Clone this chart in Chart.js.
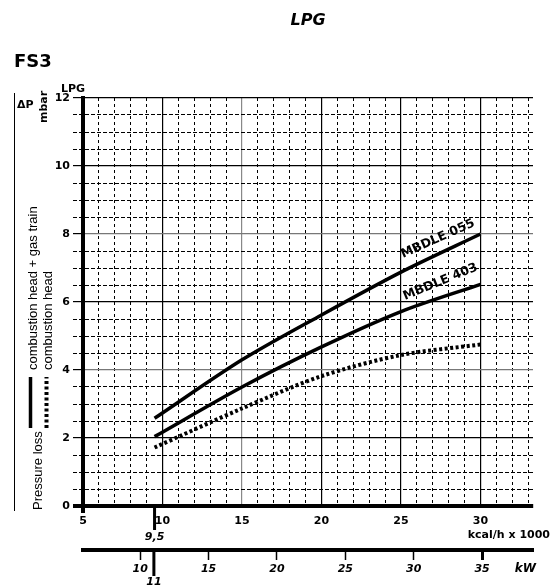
<!DOCTYPE html>
<html>
<head>
<meta charset="utf-8">
<script src="https://cdn.jsdelivr.net/npm/chart.js@4"></script>
<style>
  html, body { margin: 0; padding: 0; background: #fff; }
</style>
</head>
<body>
<canvas id="chart" width="551" height="588"></canvas>
<script>
// Burner capacity in kcal/h x 1000, pressure loss in mbar
const capacity = [9.5, 15, 20, 25, 30];
const mbdle055 = [2.58, 4.3, 5.62, 6.88, 8.0];
const mbdle403 = [2.04, 3.5, 4.68, 5.72, 6.52];
const headOnly = [1.72, 2.87, 3.82, 4.44, 4.75];

const kcalLabels = [5, 10, 15, 20, 25, 30];
const kwLabels = [10, 15, 20, 25, 30, 35];
const mbarLabels = [0, 2, 4, 6, 8, 10, 12];

const kcalToKw = 1.163;
const xMin = 5, xMax = 33.3;
const BOLD = '"DejaVu Sans", Arial, sans-serif';
const THIN = '"Liberation Sans", Arial, sans-serif';

function toPoints(values) {
  return capacity.map((c, i) => ({ x: c, y: values[i] }));
}

function stepTicks(from, to, step) {
  const out = [];
  for (let v = from; v <= to + 1e-9; v += step) out.push({ value: Math.round(v * 10) / 10 });
  return out;
}

// Extra text and markers around the plot
const extras = {
  id: 'extras',
  afterDraw(chart) {
    const ctx = chart.ctx;
    const area = chart.chartArea;
    const x = chart.scales.x, x2 = chart.scales.x2;
    ctx.save();
    ctx.fillStyle = '#000';
    ctx.strokeStyle = '#000';

    // headings
    ctx.font = 'italic bold 16px ' + BOLD;
    ctx.textAlign = 'center';
    ctx.textBaseline = 'middle';
    ctx.fillText('LPG', 308, 21);
    ctx.font = 'bold 18px ' + BOLD;
    ctx.textAlign = 'left';
    ctx.fillText('FS3', 14, 62);
    ctx.font = 'bold 11px ' + BOLD;
    ctx.textAlign = 'center';
    ctx.fillText('LPG', 73, 89);

    // axis extensions
    ctx.fillRect(73, area.bottom - 2, area.left - 73, 4);
    ctx.fillRect(area.left - 2, area.bottom, 4, 7);

    // 9,5 marker on the kcal axis
    const p95 = x.getPixelForValue(9.5);
    ctx.fillRect(p95 - 1.5, area.bottom, 3, 24);
    ctx.font = 'italic bold 11px ' + BOLD;
    ctx.fillText('9,5', p95, 537);

    // 11 marker on the kW axis
    const p11 = x2.getPixelForValue(11);
    ctx.fillRect(p11 - 1.5, x2.top, 3, 26);
    ctx.fillText('11', p11, 582);

    // axis units
    ctx.font = 'bold 11px ' + BOLD;
    ctx.textAlign = 'right';
    ctx.fillText('kcal/h x 1000', 550, 535);
    ctx.font = 'italic bold 12px ' + BOLD;
    ctx.fillText('kW', 536, 569);

    // left side labels
    ctx.lineWidth = 1;
    ctx.beginPath();
    ctx.moveTo(14.5, 93);
    ctx.lineTo(14.5, 511);
    ctx.stroke();
    ctx.font = 'bold 11px ' + BOLD;
    ctx.textAlign = 'left';
    ctx.fillText('\u0394P', 17, 105);

    function vText(text, cx, cy, font) {
      ctx.save();
      ctx.translate(cx, cy);
      ctx.rotate(-Math.PI / 2);
      ctx.font = font;
      ctx.textAlign = 'left';
      ctx.textBaseline = 'middle';
      ctx.fillText(text, 0, 0);
      ctx.restore();
    }
    vText('mbar', 44, 123, 'bold 11px ' + BOLD);
    vText('Pressure loss', 38, 510, '13px ' + THIN);
    vText('combustion head + gas train', 33, 370, '13px ' + THIN);
    vText('combustion head', 48, 370, '13px ' + THIN);

    // legend marks
    ctx.lineWidth = 3.5;
    ctx.beginPath();
    ctx.moveTo(30.5, 428);
    ctx.lineTo(30.5, 377);
    ctx.stroke();
    ctx.setLineDash([3, 2.5]);
    ctx.lineWidth = 4;
    ctx.beginPath();
    ctx.moveTo(46.5, 428);
    ctx.lineTo(46.5, 377);
    ctx.stroke();
    ctx.setLineDash([]);

    // curve labels
    function slanted(text, px, py, angle) {
      ctx.save();
      ctx.translate(px, py);
      ctx.rotate(angle);
      ctx.font = 'bold 12.5px ' + BOLD;
      ctx.textAlign = 'left';
      ctx.textBaseline = 'alphabetic';
      ctx.fillText(text, 0, 0);
      ctx.restore();
    }
    slanted('MBDLE 055', 403, 258, -0.42);
    slanted('MBDLE 403', 405, 300, -0.39);

    ctx.restore();
  }
};

const ctx = document.getElementById('chart').getContext('2d');
const chart = new Chart(ctx, {
  type: 'line',
  data: {
    datasets: [
      {
        label: 'MBDLE 055',
        data: toPoints(mbdle055),
        borderColor: '#000',
        borderWidth: 3.5,
        pointRadius: 0,
        tension: 0.3,
      },
      {
        label: 'MBDLE 403',
        data: toPoints(mbdle403),
        borderColor: '#000',
        borderWidth: 3.5,
        pointRadius: 0,
        tension: 0.3,
      },
      {
        label: 'combustion head',
        data: toPoints(headOnly),
        borderColor: '#000',
        borderWidth: 4,
        borderDash: [3, 2.5],
        borderCapStyle: 'butt',
        pointRadius: 0,
        tension: 0.3,
      },
    ],
  },
  options: {
    responsive: false,
    animation: false,
    events: [],
    layout: { padding: { top: 98, right: 18, left: 0, bottom: 0 } },
    plugins: {
      legend: { display: false },
      tooltip: { enabled: false },
    },
    scales: {
      x: {
        type: 'linear',
        axis: 'x',
        position: 'bottom',
        min: xMin,
        max: xMax,
        afterBuildTicks: (s) => { s.ticks = stepTicks(5, 33, 1); },
        afterFit: (s) => { s.height = 44; },
        grid: {
          drawTicks: false,
          color: (c) => (c.tick && c.tick.value === 15 ? '#888' : '#000'),
          lineWidth: (c) => (c.tick && c.tick.value % 5 === 0 ? 1.2 : 1),
        },
        border: {
          color: '#000',
          width: 4,
          dash: (c) => (c.tick && c.tick.value % 5 === 0 ? [] : [3, 3]),
        },
        ticks: {
          autoSkip: false,
          maxRotation: 0,
          padding: 9,
          color: '#000',
          font: { family: BOLD, size: 11, weight: 'bold' },
          callback: (v) => (kcalLabels.includes(v) ? String(v) : ''),
        },
      },
      x2: {
        type: 'linear',
        axis: 'x',
        position: 'bottom',
        min: xMin * kcalToKw,
        max: xMax * kcalToKw,
        afterBuildTicks: (s) => { s.ticks = kwLabels.map((v) => ({ value: v })); },
        afterFit: (s) => { s.height = 38; },
        grid: {
          drawOnChartArea: false,
          drawTicks: true,
          tickLength: 10,
          tickColor: '#000',
          tickWidth: (c) => (c.tick && c.tick.value === 35 ? 3 : 1.5),
        },
        border: { color: '#000', width: 4 },
        ticks: {
          autoSkip: false,
          maxRotation: 0,
          padding: 3,
          color: '#000',
          font: { family: BOLD, size: 11, weight: 'bold', style: 'italic' },
          callback: (v) => String(v),
        },
      },
      y: {
        type: 'linear',
        min: 0,
        max: 12,
        afterBuildTicks: (s) => { s.ticks = stepTicks(0, 12, 0.5); },
        afterFit: (s) => { s.width = 83; },
        grid: {
          tickLength: 10,
          tickColor: '#000',
          color: (c) => (c.tick && (c.tick.value === 4 || c.tick.value === 8) ? '#777' : '#000'),
          lineWidth: (c) => (c.tick && c.tick.value % 2 === 0 ? 1.2 : 1),
          tickBorderDash: (c) => (c.tick && c.tick.value % 2 === 0 ? [] : [4, 2]),
        },
        border: {
          color: '#000',
          width: 4,
          dash: (c) => (c.tick && c.tick.value % 2 === 0 ? [] : [4, 2]),
        },
        ticks: {
          autoSkip: false,
          padding: 3,
          color: '#000',
          font: { family: BOLD, size: 11, weight: 'bold' },
          callback: (v) => (mbarLabels.includes(v) ? String(v) : ''),
        },
      },
    },
  },
  plugins: [extras],
});
</script>
</body>
</html>
